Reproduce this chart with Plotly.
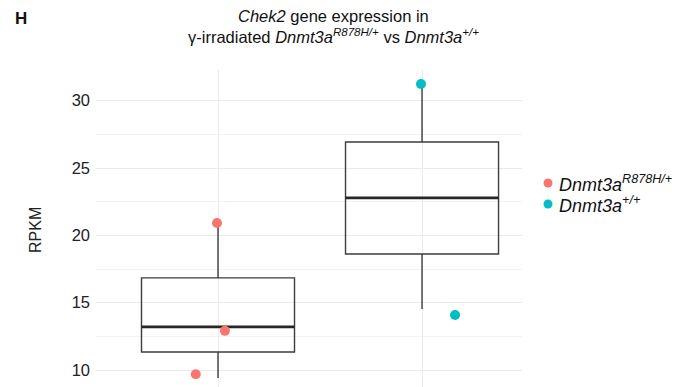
import plotly.graph_objects as go

# Chek2 RPKM per genotype: box summary statistics
groups = ["Dnmt3a<sup>R878H/+</sup>", "Dnmt3a<sup>+/+</sup>"]
group_pos = [0, 1]
box_q1 = [11.34, 18.62]
box_median = [13.20, 22.78]
box_q3 = [16.84, 26.93]
box_lower = [9.41, 14.54]
box_upper = [20.92, 31.17]

# individual samples (jittered) per genotype
mut_values = [20.92, 12.91, 9.69]
mut_jitter = [-0.005, 0.034, -0.109]
wt_values = [31.24, 14.09]
wt_jitter = [-0.005, 0.162]

colors = ["#F8766D", "#00BFC4"]
y_ticks = [10, 15, 20, 25, 30]

W, H = 678, 387
ML, MR, MT, MB = 96, 156, 70, 0
PW, PH = W - ML - MR, H - MT - MB


def px_x(x):
    return (x - ML) / PW


def px_y(y):
    return (H - MB - y) / PH


FONT = "Liberation Sans, Arial, sans-serif"
BOX_LINE = "#3d3d3d"
BOX_W = 0.75

fig = go.Figure()

fig.add_trace(go.Box(
    x=group_pos, q1=box_q1, median=box_median, q3=box_q3,
    lowerfence=box_lower, upperfence=box_upper,
    width=BOX_W, whiskerwidth=0, boxpoints=False,
    fillcolor="rgba(0,0,0,0)", line=dict(color=BOX_LINE, width=1.4),
    showlegend=False, hoverinfo="skip",
))

# heavier median bars, as in ggplot boxplots
for pos, med in zip(group_pos, box_median):
    fig.add_trace(go.Scatter(
        x=[pos - BOX_W / 2, pos + BOX_W / 2], y=[med, med], mode="lines",
        line=dict(color="#262626", width=2.8), showlegend=False, hoverinfo="skip",
    ))

for pos, vals, jit, col in [(group_pos[0], mut_values, mut_jitter, colors[0]),
                            (group_pos[1], wt_values, wt_jitter, colors[1])]:
    fig.add_trace(go.Scatter(
        x=[pos + j for j in jit], y=vals, mode="markers",
        marker=dict(color=col, size=10, line=dict(width=0)),
        showlegend=False,
    ))

annotations = [
    dict(text="<b>H</b>", x=px_x(13), y=px_y(19), xanchor="left", yanchor="middle",
         font=dict(size=17, color="#111")),
    dict(text="<i>Chek2</i> gene expression in", x=px_x(333), y=px_y(16),
         xanchor="center", yanchor="middle", font=dict(size=16.5, color="#111")),
    dict(text="γ-irradiated <i>Dnmt3a<sup>R878H/+</sup></i> vs <i>Dnmt3a<sup>+/+</sup></i>",
         x=px_x(333), y=px_y(36), xanchor="center", yanchor="middle",
         font=dict(size=16.5, color="#111")),
    dict(text="RPKM", x=px_x(35), y=px_y(230), textangle=-90,
         xanchor="center", yanchor="middle", font=dict(size=16, color="#222")),
]
shapes = []
for i, (lab, col) in enumerate(zip(groups, colors)):
    cy = 183 + i * 21
    shapes.append(dict(type="circle", xref="paper", yref="paper",
                       xsizemode="pixel", ysizemode="pixel",
                       xanchor=px_x(548), yanchor=px_y(cy),
                       x0=-4.5, x1=4.5, y0=-4.5, y1=4.5,
                       fillcolor=col, line=dict(width=0)))
    annotations.append(dict(text="<i>" + lab + "</i>", x=px_x(557), y=px_y(cy),
                            xanchor="left", yanchor="middle",
                            font=dict(size=18, color="#111")))
for a in annotations:
    a.update(xref="paper", yref="paper", showarrow=False)

fig.update_layout(
    width=W, height=H, margin=dict(l=ML, r=MR, t=MT, b=MB, pad=0),
    paper_bgcolor="white", plot_bgcolor="white",
    font=dict(family=FONT),
    showlegend=False,
    annotations=annotations, shapes=shapes,
    xaxis=dict(range=[-0.598, 1.49], tickvals=group_pos, showticklabels=False,
               showgrid=True, gridcolor="#ebebeb", gridwidth=1,
               zeroline=False, showline=False, ticks=""),
    yaxis=dict(range=[8.74, 32.28], tickvals=y_ticks,
               ticktext=[str(t) for t in y_ticks],
               tickfont=dict(size=16.5, color="#222"),
               showgrid=True, gridcolor="#ebebeb", gridwidth=1,
               minor=dict(tickvals=[12.5, 17.5, 22.5, 27.5], showgrid=True,
                          gridcolor="#f3f3f3", gridwidth=0.8, ticks=""),
               zeroline=False, showline=False, ticks="", ticklabelstandoff=5),
)

fig.write_html("out.html")
